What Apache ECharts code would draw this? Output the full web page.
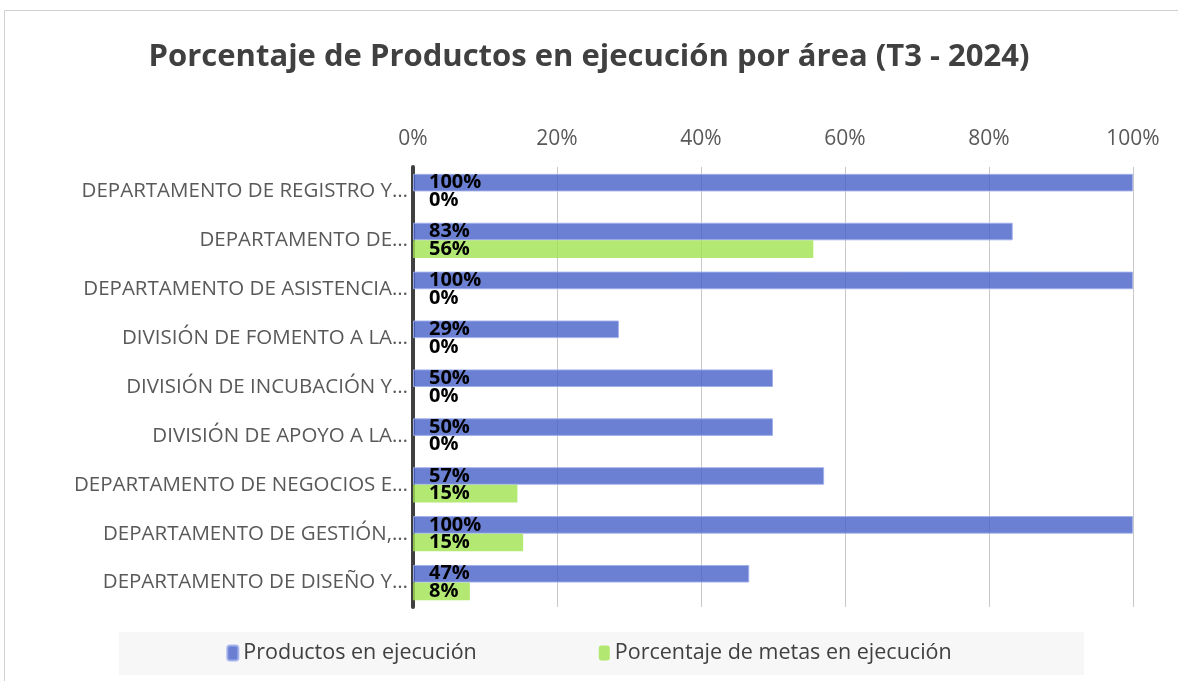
<!DOCTYPE html>
<html>
<head>
<meta charset="utf-8">
<script src="https://cdn.jsdelivr.net/npm/echarts@6/dist/echarts.min.js"></script>
<style>
  html, body { margin: 0; padding: 0; background: #fff; }
  #main { width: 1178px; height: 681px; }
</style>
</head>
<body>
<div id="main"></div>
<script>
// datos
var areas = [
  'DEPARTAMENTO DE REGISTRO Y…',
  'DEPARTAMENTO DE…',
  'DEPARTAMENTO DE ASISTENCIA…',
  'DIVISIÓN DE FOMENTO A LA…',
  'DIVISIÓN DE INCUBACIÓN Y…',
  'DIVISIÓN DE APOYO A LA…',
  'DEPARTAMENTO DE NEGOCIOS E…',
  'DEPARTAMENTO DE GESTIÓN,…',
  'DEPARTAMENTO DE DISEÑO Y…'
];
var productos = [100, 83.3, 100, 28.6, 50, 50, 57.1, 100, 46.7];
var metas = [0, 55.6, 0, 0, 0, 0, 14.5, 15.3, 7.9];
var xTicks = [0, 20, 40, 60, 80, 100];

var chartDom = document.getElementById('main');
var myChart = echarts.init(chartDom);
var fuente = 'Open Sans';

var etiqueta = {
  show: true,
  position: 'insideLeft',
  distance: 16,
  color: '#000',
  fontWeight: 'bold',
  fontSize: 20,
  fontFamily: fuente,
  formatter: function (p) { return Math.round(p.value) + '%'; }
};

var option = {
  animation: false,
  backgroundColor: '#fff',
  title: {
    text: 'Porcentaje de Productos en ejecución por área (T3 - 2024)',
    left: 'center',
    top: 37,
    textStyle: { fontFamily: fuente, fontSize: 31, fontWeight: 'bold', color: '#404040' }
  },
  graphic: [
    {
      type: 'rect',
      shape: { x: 4.5, y: 10.5, width: 1200, height: 700 },
      style: { fill: 'none', stroke: '#d0d0d0', lineWidth: 1 },
      z: -1
    },
    {
      type: 'rect',
      shape: { x: 119, y: 632, width: 965, height: 43 },
      style: { fill: '#f7f7f7' },
      z: -1
    }
  ],
  legend: {
    bottom: 12,
    left: 'center',
    itemGap: 122,
    itemWidth: 11,
    itemHeight: 15,
    textStyle: { fontFamily: fuente, fontSize: 21.5, color: '#404040' },
    data: ['Productos en ejecución', 'Porcentaje de metas en ejecución']
  },
  grid: { left: 413, right: 45, top: 167, bottom: 74 },
  xAxis: {
    type: 'value',
    position: 'top',
    min: 0,
    max: 100,
    interval: 20,
    axisLine: { show: false },
    axisTick: { show: false },
    axisLabel: {
      formatter: function (v) { return xTicks.indexOf(v) >= 0 ? v + '%' : ''; },
      fontFamily: fuente, fontSize: 21, color: '#595959', margin: 17
    },
    splitLine: { lineStyle: { color: '#c8c8c8', width: 1 } }
  },
  yAxis: {
    type: 'category',
    inverse: true,
    data: areas,
    axisLine: { show: true, lineStyle: { color: '#404040', width: 4 } },
    axisTick: { show: false },
    axisLabel: { fontFamily: fuente, fontSize: 20.5, color: '#595959', margin: 5 }
  },
  series: [
    {
      name: 'Productos en ejecución',
      type: 'bar',
      data: productos,
      barGap: '0%',
      barCategoryGap: '28%',
      itemStyle: { color: 'rgba(70,95,200,0.8)', borderColor: 'rgba(160,175,235,0.9)', borderWidth: 1 },
      label: etiqueta
    },
    {
      name: 'Porcentaje de metas en ejecución',
      type: 'bar',
      data: metas,
      itemStyle: { color: 'rgba(160,228,80,0.8)' },
      label: etiqueta
    }
  ]
};

option && myChart.setOption(option);
</script>
</body>
</html>
